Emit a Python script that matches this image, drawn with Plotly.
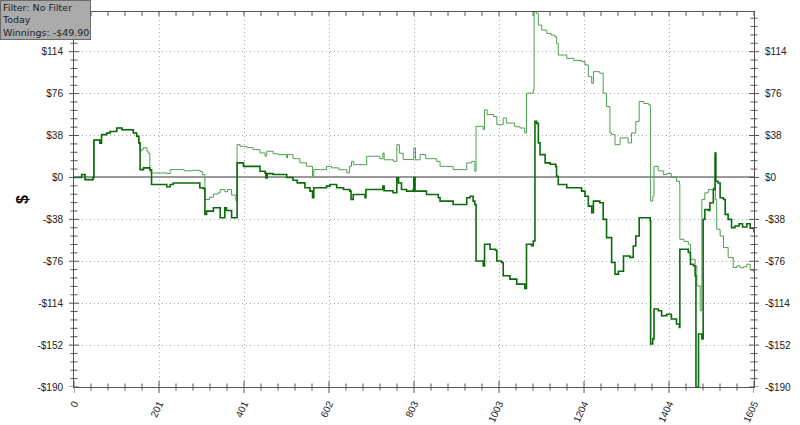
import plotly.graph_objects as go

# ---- data (hand index on x, winnings in $ on y) ----
dark_x = [0, 18, 26, 42, 45, 47, 61, 65, 77, 85, 101, 113, 140, 148, 153, 156, 164, 179, 183, 219,
          227, 234, 297, 305, 309, 313, 329, 345, 356, 360, 372, 384, 385, 400, 408, 439, 451, 453, 456, 470,
          498, 502, 517, 527, 545, 557, 563, 566, 596, 604, 620, 636, 651, 654, 659, 687, 689, 722, 729, 732,
          753, 762, 766, 773, 785, 801, 802, 805, 832, 860, 864, 895, 918, 927, 935, 942, 946, 949, 966, 969,
          982, 995, 998, 1009, 1013, 1029, 1045, 1064, 1068, 1080, 1084, 1088, 1092, 1096, 1100, 1112, 1124, 1137, 1139, 1143,
          1163, 1198, 1206, 1214, 1222, 1226, 1241, 1249, 1257, 1269, 1277, 1285, 1297, 1312, 1320, 1326, 1334, 1356, 1360, 1361,
          1366, 1369, 1379, 1387, 1399, 1410, 1422, 1429, 1430, 1450, 1455, 1462, 1466, 1468, 1472, 1474, 1482, 1485, 1489, 1497,
          1501, 1509, 1513, 1515, 1520, 1525, 1533, 1537, 1544, 1552, 1560, 1570, 1578, 1588, 1596, 1605]
dark_y = [0, 2.6, -2, -2, 0, 34, 31, 38.8, 40.3, 41.7, 44.8, 43.3, 40.3, 37.2, 31.3, 7.1, 8.7, 7, -6.4, -8.5,
          -6.4, -5, -9.4, -10, -33.5, -30.5, -27.5, -36.5, -27.5, -30, -36.5, -36.5, 13.2, 10, 10, 5.6, 4.1, -0.5, 3.5, 2.6,
          2.6, 0, -2.5, -4.9, -9.4, -12.4, -18.4, -9.4, -7.9, -6.4, -9.4, -10.9, -12.4, -20, -15.4, -18.4, -10.9, -11, -7.9, -12,
          -13.9, -0.4, -5, -11, -12.4, -11, 0, -12.4, -15.4, -18.4, -21.5, -24.5, -24.5, -18.4, -17, -21.5, -24.5, -75.7, -80.2, -60.6,
          -65.1, -66, -75.7, -77.1, -89.2, -92.2, -96.7, -100.6, -60.6, -62, -57.6, 50.8, 49, 31.3, 20.7, 13.2, 12, 10, 1.1, -6.4,
          -9.4, -12.4, -17, -26, -32, -21.5, -23, -38, -54.6, -77.1, -87.7, -85, -71.2, -72.5, -62.2, -53.1, -36.5, -36.5, -39.5, -151,
          -146.4, -119.3, -120.8, -125.4, -124, -128.4, -132.9, -135.9, -65.1, -68.1, -78.7, -80, -89.2, -190, -190, -141.9, -146.4, -38, -29, -30,
          -23, -11, 22.2, -3.4, -5, -18.4, -20, -33.5, -38, -45.5, -44, -42, -45, -42, -46, -49.9]

light_x = [0, 18, 26, 42, 45, 47, 61, 65, 77, 85, 101, 113, 140, 148, 153, 156, 160, 164, 172, 175,
           179, 183, 219, 227, 260, 280, 297, 303, 309, 320, 329, 340, 345, 356, 362, 372, 382, 384, 385, 392,
           408, 423, 439, 451, 455, 470, 482, 502, 504, 517, 533, 549, 563, 566, 581, 596, 608, 625, 644, 650,
           655, 660, 687, 691, 722, 729, 732, 754, 762, 768, 777, 801, 802, 806, 817, 830, 845, 856, 864, 880,
           895, 919, 927, 931, 939, 946, 949, 966, 969, 975, 990, 998, 1009, 1013, 1021, 1040, 1053, 1064, 1068, 1080,
           1084, 1086, 1092, 1096, 1104, 1116, 1126, 1135, 1139, 1143, 1163, 1180, 1198, 1206, 1214, 1222, 1226, 1241, 1249, 1257,
           1265, 1269, 1277, 1289, 1308, 1316, 1326, 1334, 1345, 1356, 1360, 1361, 1366, 1369, 1379, 1391, 1399, 1410, 1422, 1429,
           1430, 1440, 1450, 1455, 1466, 1470, 1478, 1482, 1489, 1497, 1509, 1514, 1517, 1525, 1533, 1544, 1556, 1565, 1572, 1580,
           1588, 1596, 1605]
light_y = [0, 2.6, -2, -2, 0, 34, 31, 38.8, 40.3, 41.7, 44.8, 43.3, 40.3, 37.2, 31.3, 24, 25.5, 27, 24, 22,
           5.6, 4, 3.5, 7.1, 6, 6.5, 5.5, 2.6, -20, -18, -15, -14, -11, -13, -11, -16, -21, -21, 29.7, 28.2,
           27, 25.2, 22.2, 19.3, 23.7, 21.5, 20.7, 17.7, 20.7, 17, 13.2, 10.1, 1.1, 7.1, 7, 10, 8.7, 7, 4.1, 10.1,
           14.6, 11.6, 11.6, 19.2, 17, 22.2, 16, 14.6, 29.7, 22, 16.2, 16, 26.7, 16, 20.7, 17, 17, 14.6, 10.1, 10,
           7.1, 7, 13.2, 13.2, 14.6, 5.6, 46.3, 43.3, 61.3, 57, 55.3, 47.8, 47.8, 53.8, 49.3, 46, 44.8, 40.3, 76.4, 76.4,
           79.4, 150, 148.6, 138.1, 133.6, 130.6, 129, 127.6, 121.6, 111, 108, 106, 105, 102, 91.4, 85.4, 95.9, 94.5, 76.4, 64.3,
           40.3, 38.8, 29.7, 35.8, 31.3, 40.3, 50.8, 68.8, 67, 66, 64.3, -21.5, -17, 10.1, 6, 2.6, 3.5, 0, -3.4, -6.4,
           -56.1, -58, -60.6, -74.2, -80, -98.3, -120.9, -20, -13.9, -11, -9.4, -20, -47, -53.1, -63.6, -72.6, -81.7, -80, -82, -81,
           -78.7, -84, -86.2]

x_max = 1605
x_tick_labels = ["0", "201", "401", "602", "803", "1003", "1204", "1404", "1605"]
y_tick_vals = [-190, -152, -114, -76, -38, 0, 38, 76, 114]
y_tick_labels = ["-$190", "-$152", "-$114", "-$76", "-$38", "$0", "$38", "$76", "$114"]
y_range = [-190, 150]
info_lines = ["Filter: No Filter", "Today", "Winnings: -$49.90"]

# ---- layout geometry ----
W, H = 800, 425
ML, MR, MT, MB = 74, 46, 12, 38
PW, PH = W - ML - MR, H - MT - MB

x_tick_vals = [i * x_max / 8 for i in range(9)]
x_minor_vals = [i * x_max / 40 for i in range(41) if i % 5]
y_minor_vals = [y_range[0] + i * 7.6 for i in range(45) if i % 5 and y_range[0] + i * 7.6 <= y_range[1]]

fig = go.Figure()
fig.add_trace(go.Scatter(x=light_x, y=light_y, mode="lines", line_shape="hv",
                         line=dict(color="#4f9f4f", width=1), hoverinfo="skip"))
fig.add_trace(go.Scatter(x=dark_x, y=dark_y, mode="lines", line_shape="hv",
                         line=dict(color="#0b6b0b", width=1.6), hoverinfo="skip"))
fig.add_trace(go.Scatter(x=[None], y=[None], yaxis="y2", showlegend=False, hoverinfo="skip"))

tickfont = dict(family="Liberation Sans, Arial, sans-serif", size=10, color="#222")
axcol = "#555"
hidden_tick = "rgba(0,0,0,0)"
grid = dict(showgrid=True, gridcolor="#a8a8a8", griddash="1px,3px", gridwidth=1)

fig.update_layout(
    width=W, height=H,
    margin=dict(l=ML, r=MR, t=MT, b=MB),
    paper_bgcolor="white", plot_bgcolor="white",
    showlegend=False,
    xaxis=dict(range=[0, x_max], tickmode="array", tickvals=x_tick_vals, ticktext=x_tick_labels,
               ticks="outside", ticklen=6, tickcolor=hidden_tick, tickangle=-65,
               showline=True, linecolor=axcol, mirror=True, zeroline=False, automargin=False,
               tickfont=tickfont, **grid),
    yaxis=dict(range=y_range, tickmode="array", tickvals=y_tick_vals, ticktext=y_tick_labels,
               ticks="outside", ticklen=8, tickcolor=hidden_tick,
               showline=True, linecolor=axcol, automargin=False, tickfont=tickfont, **grid,
               zeroline=True, zerolinecolor="#9a9a9a", zerolinewidth=2),
    yaxis2=dict(range=y_range, tickmode="array", tickvals=y_tick_vals, ticktext=y_tick_labels,
                overlaying="y", anchor="x", side="right", ticks="outside", ticklen=8,
                tickcolor=hidden_tick, showline=True, linecolor=axcol, automargin=False, tickfont=tickfont,
                showgrid=False, zeroline=False),
)

# crossing tick marks drawn from the tick value lists
shapes = []
tick_line = dict(color=axcol, width=1)
for vals, half in [(x_tick_vals, 6), (x_minor_vals, 3.5)]:
    for v in vals:
        shapes.append(dict(type="line", xref="x", yref="paper", x0=v, x1=v,
                           y0=-half / PH, y1=half / PH, line=tick_line, layer="above"))
        shapes.append(dict(type="line", xref="x", yref="paper", x0=v, x1=v,
                           y0=1, y1=1 - 4 / PH, line=tick_line, layer="above"))
for vals, half in [(y_tick_vals, 5), (y_minor_vals, 3.5)]:
    for v in vals:
        for edge in (0, 1):
            shapes.append(dict(type="line", xref="paper", yref="y", y0=v, y1=v,
                               x0=edge - half / PW, x1=edge + half / PW, line=tick_line, layer="above"))
fig.update_layout(shapes=shapes)

fig.add_annotation(xref="paper", yref="paper", x=-62 / PW, y=0.5, text="<b>$</b>", textangle=-90,
                   showarrow=False, font=dict(family="Liberation Sans, Arial, sans-serif", size=16, color="#111"))
fig.add_annotation(xref="paper", yref="paper", x=-ML / PW, y=(PH + MT) / PH, xanchor="left", yanchor="top",
                   text="<br>".join(info_lines), align="left", showarrow=False,
                   bgcolor="#ababab", bordercolor="#6a6a6a", borderwidth=1, borderpad=1,
                   font=dict(family="DejaVu Sans, Verdana, sans-serif", size=9.5, color="#222"))

fig.write_html("out.html", config={"displayModeBar": False},
               post_script="document.body.style.margin='0';document.body.style.padding='0';")
